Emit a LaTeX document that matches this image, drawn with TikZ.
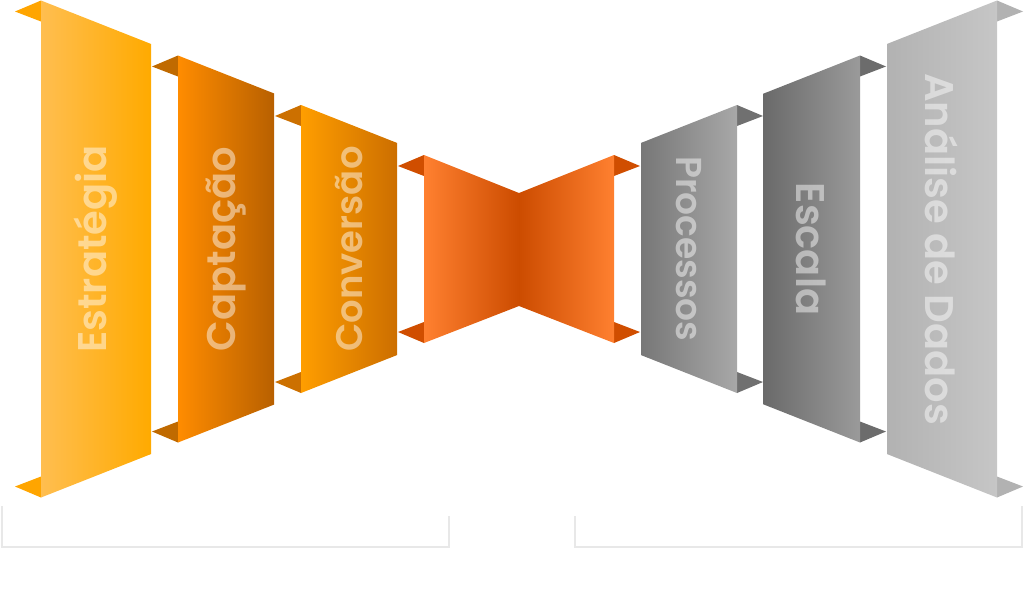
\documentclass[tikz,border=0pt]{standalone}
\usepackage{fontspec}
\newfontfamily\pop{Poppins}[UprightFont = * SemiBold]
\definecolor{lrjAe}{HTML}{FFBE50}
\definecolor{lrjAd}{HTML}{FFAA00}
\definecolor{lrjAa}{HTML}{FFA500}
\definecolor{lrjBe}{HTML}{FF8C00}
\definecolor{lrjBd}{HTML}{B86000}
\definecolor{lrjBa}{HTML}{C06A00}
\definecolor{lrjCe}{HTML}{FF9E00}
\definecolor{lrjCd}{HTML}{CC6E00}
\definecolor{lrjCa}{HTML}{CC7000}
\definecolor{vermE}{HTML}{FF8030}
\definecolor{vermM}{HTML}{FF7020}
\definecolor{vermD}{HTML}{CC4C00}
\definecolor{vermA}{HTML}{D04E00}
\definecolor{czAe}{HTML}{777777}
\definecolor{czAd}{HTML}{A8A8A8}
\definecolor{czAa}{HTML}{707070}
\definecolor{czBe}{HTML}{6A6A6A}
\definecolor{czBd}{HTML}{9A9A9A}
\definecolor{czBa}{HTML}{6C6C6C}
\definecolor{czCe}{HTML}{B2B2B2}
\definecolor{czCd}{HTML}{C6C6C6}
\definecolor{czCa}{HTML}{B2B2B2}
\begin{document}
\begin{tikzpicture}[x=1pt,y=-1pt,
	rotulo/.style={font=\pop, text=white, text opacity=0.47, inner sep=0pt},
	chave/.style={draw=black!9, line width=1.5pt}]
\useasboundingbox (0,0) rectangle (1024,611);

% Faixas da esquerda
	\foreach \xl/\xr/\h/\ce/\cd/\ca/\tam/\txt [count=\i] in {41/151/248.5/lrjAe/lrjAd/lrjAa/40/Estratégia, 178/274/193.5/lrjBe/lrjBd/lrjBa/40/Captação, 301/397/144/lrjCe/lrjCd/lrjCa/37/Conversão}
	{
		\pgfmathsetmacro\hi{\h-0.395*(\xr-\xl)}
		\fill[\ca] (\xl,249-\h) -- (\xl-26,249-\h+11) -- (\xl,249-\h+21) -- cycle;
		\fill[\ca] (\xl,249+\h) -- (\xl-26,249+\h-11) -- (\xl,249+\h-21) -- cycle;
		\shade[left color=\ce, right color=\cd] (\xl,249-\h) -- (\xr,249-\hi) -- (\xr,249+\hi) -- (\xl,249+\h) -- cycle;
		\node[rotulo, rotate=90] (esq\i) at ({(\xl+\xr)/2},249) {\fontsize{\tam}{\tam}\selectfont \txt};
	}

% Centro
	\fill[vermA] (424,155) -- (398,166) -- (424,176) -- cycle;
	\fill[vermA] (424,343) -- (398,332) -- (424,322) -- cycle;
	\fill[vermA] (614,155) -- (640,166) -- (614,176) -- cycle;
	\fill[vermA] (614,343) -- (640,332) -- (614,322) -- cycle;
	\shade[left color=vermE, middle color=vermM, right color=vermD] (424,155) -- (519,193) -- (519,306) -- (424,343) -- cycle;
	\shade[left color=vermD, middle color=vermM, right color=vermE] (519,193) -- (614,155) -- (614,343) -- (519,306) -- cycle;

% Faixas da direita
	\foreach \xl/\xr/\h/\ce/\cd/\ca/\tam/\txt [count=\i] in {641/737/144/czAe/czAd/czAa/36/Processos, 763/860/193.5/czBe/czBd/czBa/40/Escala, 887/997/248.5/czCe/czCd/czCa/40/Análise de Dados}
	{
		\pgfmathsetmacro\hi{\h-0.395*(\xr-\xl)}
		\fill[\ca] (\xr,249-\h) -- (\xr+26,249-\h+11) -- (\xr,249-\h+21) -- cycle;
		\fill[\ca] (\xr,249+\h) -- (\xr+26,249+\h-11) -- (\xr,249+\h-21) -- cycle;
		\shade[left color=\ce, right color=\cd] (\xl,249-\hi) -- (\xr,249-\h) -- (\xr,249+\h) -- (\xl,249+\hi) -- cycle;
		\node[rotulo, rotate=-90] (dir\i) at ({(\xl+\xr)/2},249) {\fontsize{\tam}{\tam}\selectfont \txt};
	}

% Chaves
	\draw[chave] (2,506) |- (449,547) -- (449,516);
	\draw[chave] (575,516) |- (1022,547) -- (1022,506);
\end{tikzpicture}
\end{document}
